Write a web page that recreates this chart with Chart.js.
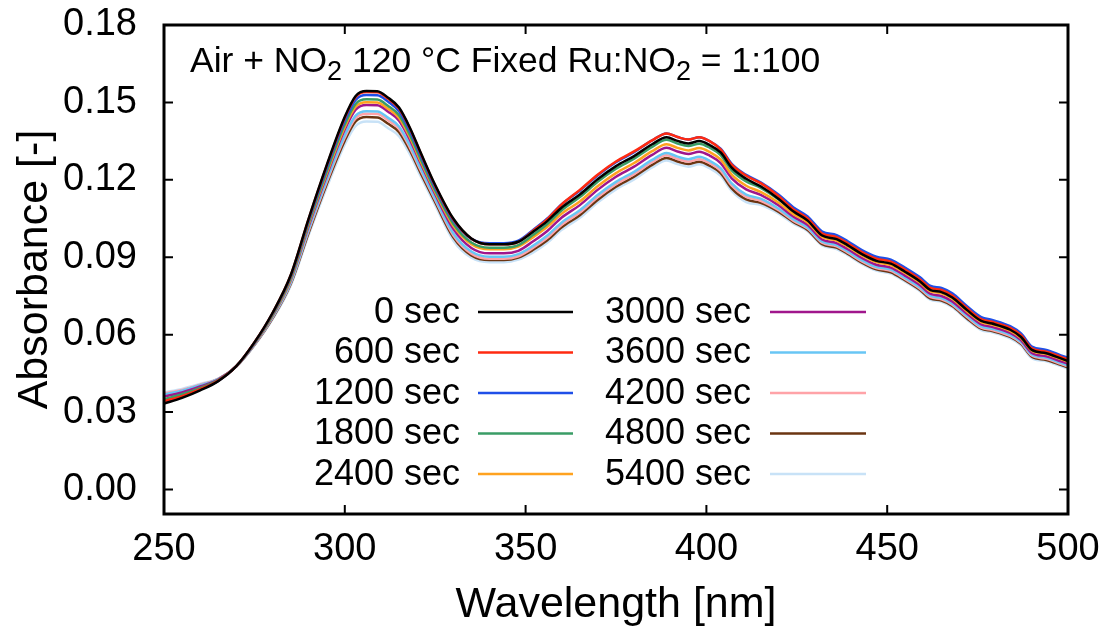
<!DOCTYPE html>
<html><head><meta charset="utf-8">
<script src="https://cdn.jsdelivr.net/npm/chart.js@4/dist/chart.umd.min.js"></script>
<style>html,body{margin:0;padding:0;background:#fff;}canvas{display:block;}</style>
</head><body>
<canvas id="c" width="1115" height="639"></canvas>
<script>
const wavelengths = [250,255,260,265,270,275,280,285,290,295,300,303,306,309,312,315,318,321,325,330,335,340,344,348,352,356,360,365,370,375,380,385,389,392,395,398,401,404,407,411,415,420,424,428,432,436,439,443,447,451,455,459,462,465,468,472,476,479,484,487,490,494,498,500];

const sec0 = [.0333,.0355,.0384,.0420,.0478,.0570,.0684,.0829,.1050,.1257,.1444,.1525,.1544,.1543,.1518,.1480,.1402,.1305,.1180,.1050,.0973,.0950,.0950,.0960,.0998,.1040,.1093,.1143,.1203,.1253,.1292,.1338,.1365,.1351,.1341,.1350,.1334,.1305,.1247,.1204,.1175,.1126,.1078,.1042,.0984,.0970,.0947,.0912,.0886,.0875,.0843,.0807,.0773,.0765,.0744,.0696,.0653,.0643,.0619,.0591,.0541,.0528,.0508,.0498];
const sec600 = [.0342,.0362,.0389,.0422,.0478,.0570,.0683,.0828,.1048,.1254,.1440,.1521,.1540,.1539,.1514,.1476,.1399,.1302,.1177,.1047,.0972,.0950,.0950,.0960,.1002,.1048,.1105,.1161,.1221,.1271,.1310,.1353,.1380,.1366,.1356,.1365,.1349,.1317,.1259,.1216,.1187,.1136,.1086,.1050,.0992,.0978,.0955,.0920,.0894,.0883,.0851,.0815,.0781,.0773,.0752,.0704,.0660,.0650,.0626,.0598,.0547,.0534,.0514,.0504];
const sec1200 = [.0338,.0359,.0387,.0421,.0478,.0568,.0681,.0824,.1042,.1246,.1430,.1510,.1529,.1528,.1503,.1466,.1389,.1293,.1170,.1042,.0971,.0954,.0954,.0964,.1005,.1050,.1106,.1158,.1218,.1268,.1307,.1353,.1380,.1366,.1356,.1365,.1349,.1320,.1262,.1219,.1190,.1142,.1094,.1058,.1000,.0986,.0963,.0928,.0902,.0891,.0859,.0823,.0789,.0781,.0760,.0711,.0668,.0657,.0633,.0605,.0554,.0541,.0520,.0510];
const sec1800 = [.0350,.0369,.0394,.0424,.0478,.0567,.0677,.0818,.1033,.1233,.1415,.1494,.1512,.1511,.1486,.1450,.1374,.1280,.1159,.1030,.0957,.0937,.0937,.0947,.0986,.1029,.1082,.1133,.1193,.1243,.1282,.1328,.1355,.1341,.1331,.1340,.1324,.1295,.1237,.1194,.1169,.1124,.1081,.1048,.0994,.0980,.0957,.0922,.0896,.0885,.0853,.0817,.0783,.0775,.0754,.0705,.0662,.0652,.0627,.0599,.0548,.0535,.0514,.0504];
const sec2400 = [.0347,.0366,.0392,.0423,.0478,.0566,.0675,.0814,.1027,.1225,.1405,.1483,.1501,.1500,.1475,.1440,.1365,.1271,.1152,.1022,.0951,.0931,.0931,.0941,.0977,.1018,.1069,.1116,.1176,.1226,.1265,.1311,.1338,.1324,.1314,.1323,.1307,.1278,.1220,.1177,.1153,.1111,.1068,.1035,.0979,.0965,.0942,.0907,.0881,.0870,.0838,.0802,.0768,.0760,.0739,.0691,.0649,.0639,.0615,.0587,.0538,.0525,.0505,.0495];
const sec3000 = [.0360,.0376,.0399,.0426,.0478,.0565,.0673,.0811,.1021,.1217,.1395,.1472,.1490,.1489,.1464,.1429,.1355,.1263,.1144,.1010,.0936,.0915,.0915,.0925,.0961,.1002,.1054,.1102,.1162,.1212,.1251,.1297,.1324,.1310,.1300,.1309,.1293,.1264,.1206,.1163,.1142,.1101,.1058,.1025,.0969,.0955,.0932,.0897,.0871,.0860,.0828,.0792,.0758,.0750,.0729,.0682,.0640,.0630,.0607,.0579,.0529,.0516,.0497,.0487];
const sec3600 = [.0368,.0383,.0404,.0428,.0477,.0562,.0668,.0802,.1008,.1200,.1373,.1449,.1466,.1465,.1440,.1407,.1334,.1244,.1128,.0993,.0922,.0902,.0902,.0912,.0944,.0984,.1035,.1082,.1142,.1192,.1231,.1277,.1304,.1290,.1280,.1289,.1273,.1244,.1186,.1143,.1127,.1088,.1047,.1015,.0961,.0947,.0924,.0889,.0863,.0852,.0820,.0784,.0750,.0742,.0721,.0674,.0632,.0623,.0599,.0572,.0523,.0510,.0491,.0481];
const sec4200 = [.0372,.0386,.0406,.0429,.0477,.0561,.0666,.0799,.1002,.1192,.1364,.1439,.1456,.1455,.1430,.1397,.1325,.1236,.1122,.0985,.0914,.0894,.0894,.0904,.0936,.0975,.1026,.1073,.1133,.1183,.1222,.1268,.1295,.1281,.1271,.1280,.1264,.1235,.1177,.1134,.1119,.1082,.1042,.1011,.0956,.0942,.0919,.0884,.0858,.0847,.0815,.0779,.0745,.0737,.0716,.0669,.0627,.0618,.0595,.0568,.0519,.0506,.0487,.0477];
const sec4800 = [.0366,.0383,.0404,.0428,.0477,.0560,.0663,.0795,.0995,.1183,.1352,.1426,.1443,.1442,.1417,.1385,.1314,.1226,.1113,.0977,.0907,.0889,.0889,.0899,.0928,.0966,.1016,.1063,.1123,.1173,.1212,.1258,.1285,.1271,.1261,.1270,.1254,.1225,.1167,.1124,.1111,.1076,.1037,.1006,.0951,.0937,.0914,.0879,.0853,.0842,.0810,.0774,.0740,.0732,.0711,.0664,.0623,.0614,.0591,.0564,.0515,.0502,.0483,.0473];
const sec5400 = [.0376,.0390,.0409,.0430,.0476,.0558,.0659,.0789,.0986,.1170,.1337,.1409,.1426,.1425,.1400,.1369,.1299,.1213,.1102,.0965,.0898,.0881,.0881,.0891,.0918,.0956,.1006,.1053,.1113,.1163,.1202,.1248,.1275,.1261,.1251,.1260,.1244,.1215,.1157,.1114,.1103,.1069,.1031,.1001,.0946,.0932,.0909,.0874,.0848,.0837,.0805,.0769,.0735,.0727,.0706,.0659,.0618,.0609,.0586,.0559,.0509,.0497,.0478,.0469];

const seriesLabels = ['0 sec','600 sec','1200 sec','1800 sec','2400 sec','3000 sec','3600 sec','4200 sec','4800 sec','5400 sec'];
const seriesValues = [sec0,sec600,sec1200,sec1800,sec2400,sec3000,sec3600,sec4200,sec4800,sec5400];
const seriesColors = ['#000000','#ff2a10','#1f4fe8','#3a9d66','#ffa21f','#a0168c','#68c6f5','#ffa3a8','#6b3512','#c8e2f7'];
const xTicks = [250,300,350,400,450,500];
const yTicks = [0,0.03,0.06,0.09,0.12,0.15,0.18];

const FONT = "'Liberation Sans', Arial, sans-serif";
Chart.defaults.font.family = FONT;
Chart.defaults.color = '#000';

const datasets = seriesLabels.map((lab, i) => ({
  label: lab,
  data: wavelengths.map((w, j) => ({x: w, y: seriesValues[i][j]})),
  borderColor: seriesColors[i],
  backgroundColor: seriesColors[i],
  borderWidth: 2.5,
  pointRadius: 0,
  fill: false,
  cubicInterpolationMode: 'monotone'
}));

const framePlugin = {
  id: 'frame',
  afterDraw(chart) {
    const {ctx, chartArea: a, scales: {x, y}} = chart;
    ctx.save();
    ctx.strokeStyle = '#000';
    ctx.lineWidth = 2;
    const L = 9;
    ctx.beginPath();
    xTicks.forEach(v => {
      const px = x.getPixelForValue(v);
      ctx.moveTo(px, a.bottom); ctx.lineTo(px, a.bottom - L);
      ctx.moveTo(px, a.top); ctx.lineTo(px, a.top + L);
    });
    yTicks.forEach(v => {
      const py = y.getPixelForValue(v);
      ctx.moveTo(a.left, py); ctx.lineTo(a.left + L, py);
      ctx.moveTo(a.right, py); ctx.lineTo(a.right - L, py);
    });
    ctx.stroke();
    ctx.lineWidth = 3;
    ctx.strokeRect(a.left, a.top, a.right - a.left, a.bottom - a.top);

    // annotation text with subscripts
    const parts = [['Air + NO', false], ['2', true], [' 120 \u00B0C Fixed Ru:NO', false], ['2', true], [' = 1:100', false]];
    let tx = 190; const base = 72;
    ctx.fillStyle = '#000';
    ctx.textBaseline = 'alphabetic';
    ctx.textAlign = 'left';
    parts.forEach(([t, sub]) => {
      ctx.font = (sub ? '27px ' : '35.5px ') + FONT;
      ctx.fillText(t, tx, sub ? base + 8 : base);
      tx += ctx.measureText(t).width;
    });

    // legend
    ctx.font = '36px ' + FONT;
    ctx.textAlign = 'right';
    ctx.textBaseline = 'middle';
    const rows = [312, 352.5, 393, 433.5, 474];
    const cols = [{tr: 460, l0: 478, l1: 573}, {tr: 751, l0: 770, l1: 866}];
    seriesLabels.forEach((lab, i) => {
      const c = cols[Math.floor(i / 5)];
      const ry = rows[i % 5];
      ctx.fillStyle = '#000';
      ctx.fillText(lab, c.tr, ry + 1);
      ctx.strokeStyle = seriesColors[i];
      ctx.lineWidth = 2.5;
      ctx.beginPath(); ctx.moveTo(c.l0, ry); ctx.lineTo(c.l1, ry); ctx.stroke();
    });
    ctx.restore();
  }
};

new Chart(document.getElementById('c'), {
  type: 'line',
  data: {datasets},
  plugins: [framePlugin],
  options: {
    responsive: false,
    animation: false,
    devicePixelRatio: 1,
    layout: {padding: {top: 25, right: 47, left: 0, bottom: 0}},
    plugins: {legend: {display: false}, tooltip: {enabled: false}},
    scales: {
      x: {
        type: 'linear', min: 250, max: 500,
        grid: {display: false, drawTicks: false},
        border: {display: false},
        afterBuildTicks: s => { s.ticks = xTicks.map(v => ({value: v})); },
        afterFit: s => { s.height = 125; s.paddingLeft = 0; s.paddingRight = 0; },
        ticks: {font: {size: 38}, color: '#000', padding: 13, maxRotation: 0, autoSkip: false},
        title: {display: true, text: 'Wavelength [nm]', font: {size: 43}, color: '#000', padding: {top: 0, bottom: 8}}
      },
      y: {
        type: 'linear', min: -0.0095, max: 0.18,
        grid: {display: false, drawTicks: false},
        border: {display: false},
        afterBuildTicks: s => { s.ticks = yTicks.map(v => ({value: v})); },
        afterFit: s => { s.width = 164; s.paddingTop = 0; s.paddingBottom = 0; },
        ticks: {font: {size: 38}, color: '#000', padding: 27, autoSkip: false, callback: v => Number(v).toFixed(2)},
        title: {display: true, text: 'Absorbance [-]', font: {size: 43}, color: '#000', padding: {top: 9, bottom: 0}}
      }
    }
  }
});
</script>
</body></html>
